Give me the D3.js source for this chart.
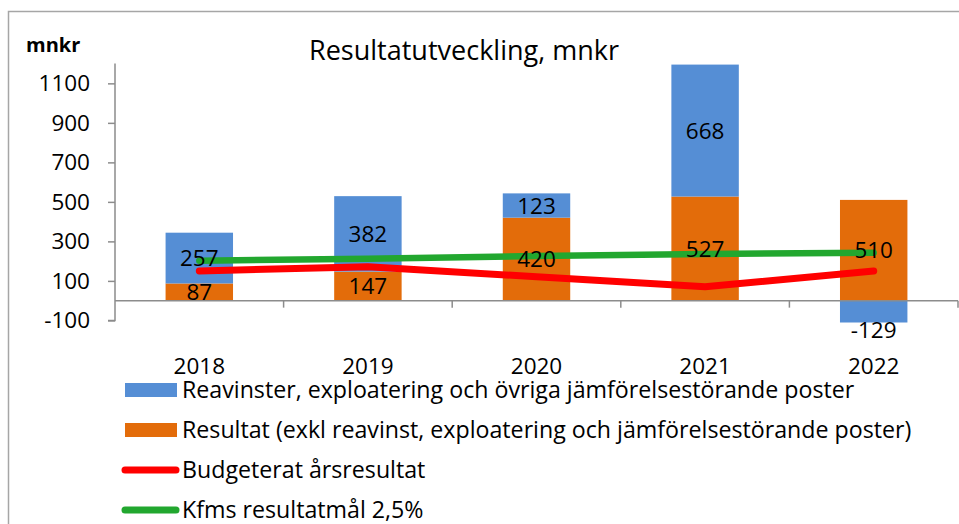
<!DOCTYPE html>
<html>
<head>
<meta charset="utf-8">
<title>Resultatutveckling</title>
<script src="https://cdnjs.cloudflare.com/ajax/libs/d3/7.8.5/d3.min.js"></script>
<style>
  body { margin: 0; background: #fff; }
  svg text { font-family: "Open Sans", sans-serif; fill: #000; }
</style>
</head>
<body>
<div id="chart"></div>
<script>
// data
var years = ["2018", "2019", "2020", "2021", "2022"];
var reavinster = [257, 382, 123, 668, -129];   // blue
var resultat = [87, 147, 420, 527, 510];        // orange
var budget = [150, 172, 121, 70, 150];          // red line
var resultatmal = [202, 212, 226, 236, 243];    // green line
var yTicks = [-100, 100, 300, 500, 700, 900, 1100];
var legendNames = [
  "Reavinster, exploatering och övriga jämförelsestörande poster",
  "Resultat (exkl reavinst, exploatering och jämförelsestörande poster)",
  "Budgeterat årsresultat",
  "Kfms resultatmål 2,5%"
];

var W = 959, H = 524;
var blue = "#558ed5", orange = "#e36c0a", red = "#ff0000", green = "#22a72f";

var svg = d3.select("#chart").append("svg")
  .attr("width", W).attr("height", H);

// outer frame (only left & top visible in the crop)
svg.append("path")
  .attr("d", "M8.5," + H + "V11.5H" + W)
  .attr("fill", "none").attr("stroke", "#a6a6a6").attr("stroke-width", 1.5);

var x = d3.scaleBand().domain(years).range([115, 958]).paddingInner(0.6).paddingOuter(0.3);
var y = d3.scaleLinear().domain([-100, 1200]).range([320.4, 63.6]);

// clip for the plot area
svg.append("clipPath").attr("id", "plot")
  .append("rect").attr("x", 115).attr("y", y(1200)).attr("width", 843).attr("height", y(-111) - y(1200));

var g = svg.append("g").attr("clip-path", "url(#plot)");

// stacked bars
years.forEach(function(yr, i) {
  var o = resultat[i], b = reavinster[i];
  g.append("rect").attr("x", x(yr)).attr("width", x.bandwidth())
    .attr("y", y(o)).attr("height", y(0) - y(o)).attr("fill", orange);
  var b0 = b >= 0 ? o : 0, b1 = b >= 0 ? o + b : b;
  g.append("rect").attr("x", x(yr)).attr("width", x.bandwidth())
    .attr("y", y(Math.max(b0, b1))).attr("height", Math.abs(y(b0) - y(b1))).attr("fill", blue);
});

// lines
var line = d3.line().x(function(d, i) { return x(years[i]) + x.bandwidth() / 2; }).y(function(d) { return y(d); });
svg.append("path").datum(budget).attr("d", line)
  .attr("fill", "none").attr("stroke", red).attr("stroke-width", 7)
  .attr("stroke-linecap", "round").attr("stroke-linejoin", "round");
svg.append("path").datum(resultatmal).attr("d", line)
  .attr("fill", "none").attr("stroke", green).attr("stroke-width", 6.5)
  .attr("stroke-linecap", "round").attr("stroke-linejoin", "round");

// y axis
var yAxis = d3.axisLeft(y).tickValues(yTicks).tickFormat(function(d) { return String(d); })
  .tickSize(7).tickSizeOuter(0).tickPadding(18);
var ya = svg.append("g").attr("transform", "translate(115,0)").call(yAxis);
ya.select(".domain").attr("d", "M-7," + y(-100) + "H0V" + y(1200));
ya.selectAll("line, path").attr("stroke", "#8c8c8c").attr("stroke-width", 1.5);
ya.selectAll("text").attr("font-size", 22.5).style("font-family", "'Open Sans', sans-serif");

// x axis at zero
var xAxisG = svg.append("g").attr("transform", "translate(0," + y(0) + ")");
xAxisG.append("line").attr("x1", 115).attr("x2", 958).attr("stroke", "#8c8c8c").attr("stroke-width", 1.5);
var bounds = years.map(function(yr) { return x(yr) - x.step() * 0.3; }).concat([958]);
xAxisG.selectAll(".xt").data(bounds.slice(1)).enter().append("line")
  .attr("x1", function(d) { return d; }).attr("x2", function(d) { return d; })
  .attr("y1", 0).attr("y2", 7).attr("stroke", "#8c8c8c").attr("stroke-width", 1.5);
svg.selectAll(".xl").data(years).enter().append("text")
  .attr("x", function(d) { return x(d) + x.bandwidth() / 2; }).attr("y", 374)
  .attr("text-anchor", "middle").attr("font-size", 22.5).text(function(d) { return d; });

// data labels
years.forEach(function(yr, i) {
  var cx = x(yr) + x.bandwidth() / 2, o = resultat[i], b = reavinster[i];
  svg.append("text").attr("x", cx).attr("y", y(o / 2)).attr("dy", "0.36em")
    .attr("text-anchor", "middle").attr("font-size", 22.5).text(o);
  var by = b >= 0 ? y(o + b / 2) : y(b) + 4;
  svg.append("text").attr("x", cx).attr("y", by).attr("dy", "0.36em")
    .attr("text-anchor", "middle").attr("font-size", 22.5).text(b);
});

// title and unit
svg.append("text").attr("x", 464).attr("y", 60).attr("text-anchor", "middle")
  .attr("font-size", 27).text("Resultatutveckling, mnkr");
svg.append("text").attr("x", 26).attr("y", 52).attr("font-size", 20)
  .attr("font-weight", "bold").text("mnkr");

// legend
var leg = svg.selectAll(".leg").data(legendNames).enter().append("g")
  .attr("transform", function(d, i) { return "translate(0," + (390 + i * 40) + ")"; });
leg.each(function(d, i) {
  var s = d3.select(this);
  if (i < 2) {
    s.append("rect").attr("x", 125).attr("y", -7).attr("width", 52).attr("height", 14)
      .attr("fill", i === 0 ? blue : orange);
  } else {
    s.append("line").attr("x1", 125).attr("x2", 176).attr("y1", 0).attr("y2", 0)
      .attr("stroke", i === 2 ? red : green).attr("stroke-width", 7).attr("stroke-linecap", "round");
  }
  s.append("text").attr("x", 182).attr("y", 0).attr("dy", "0.35em")
    .attr("font-size", 23.2).text(d);
});
</script>
</body>
</html>
